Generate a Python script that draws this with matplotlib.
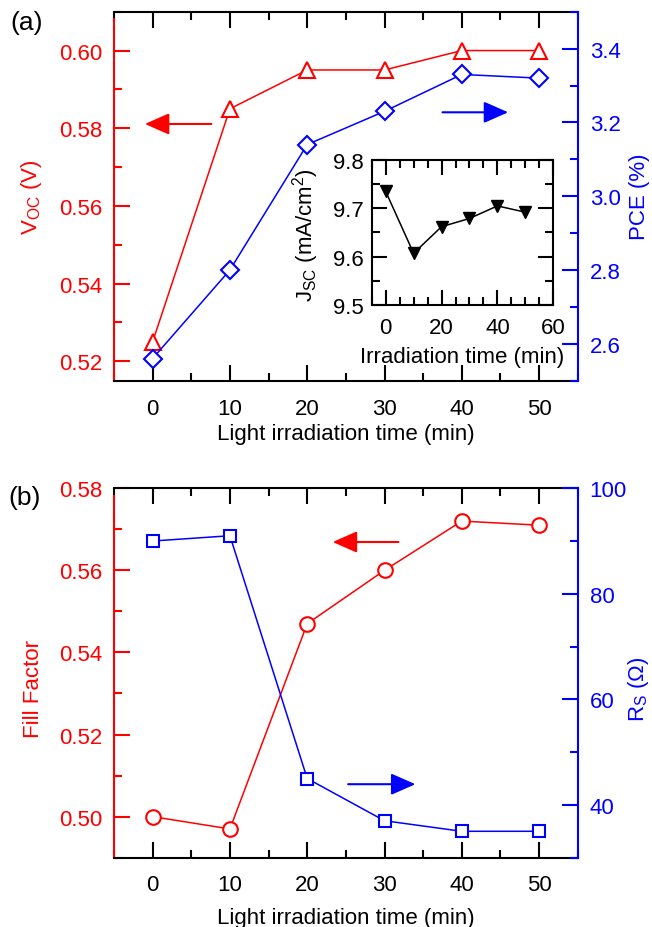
import matplotlib
matplotlib.use('Agg')
import matplotlib.pyplot as plt
from matplotlib.ticker import MultipleLocator

plt.rcParams['font.family'] = ['Liberation Sans', 'DejaVu Sans']
plt.rcParams['mathtext.fontset'] = 'custom'
plt.rcParams['mathtext.rm'] = 'Liberation Sans'
plt.rcParams['mathtext.it'] = 'Liberation Sans:italic'

RED = '#ff0000'
BLUE = '#0000ff'

# device parameters vs. light irradiation time
time_min = [0, 10, 20, 30, 40, 50]
voc = [0.525, 0.585, 0.595, 0.595, 0.600, 0.600]
pce = [2.56, 2.80, 3.14, 3.23, 3.33, 3.32]
jsc = [9.735, 9.607, 9.662, 9.679, 9.705, 9.692]
fill_factor = [0.500, 0.497, 0.547, 0.560, 0.572, 0.571]
rs = [90, 91, 45, 37, 35, 35]

FS = 16
FS_IN = 16
LW = 1.5


def style_x(ax, pad):
    ax.set_xlim(-5, 55)
    ax.xaxis.set_major_locator(MultipleLocator(10))
    ax.xaxis.set_minor_locator(MultipleLocator(5))
    ax.tick_params(axis='x', which='major', direction='in', length=11.3, width=LW,
                   top=True, bottom=True, labelsize=FS, pad=pad)
    ax.tick_params(axis='x', which='minor', direction='in', length=5.8, width=LW,
                   top=True, bottom=True)


def style_y(ax, side, color, lim, major, minor):
    ax.set_ylim(*lim)
    ax.yaxis.set_major_locator(MultipleLocator(major))
    ax.yaxis.set_minor_locator(MultipleLocator(minor))
    left = side == 'left'
    ax.tick_params(axis='y', which='major', direction='in', length=11.3, width=LW,
                   colors=color, labelsize=FS, pad=8.6, left=left, right=not left,
                   labelleft=left, labelright=not left)
    ax.tick_params(axis='y', which='minor', direction='in', length=5.8, width=LW,
                   colors=color, left=left, right=not left)


def setup_spines(ax, ax2):
    for s in ax.spines.values():
        s.set_linewidth(LW)
    ax.spines['left'].set_color(RED)
    ax.spines['right'].set_visible(False)
    for name in ['left', 'top', 'bottom']:
        ax2.spines[name].set_visible(False)
    ax2.spines['right'].set_color(BLUE)
    ax2.spines['right'].set_linewidth(LW)


def arrow(ax, tip, tail, color):
    ax.annotate('', xy=tip, xytext=tail,
                arrowprops=dict(arrowstyle='-|>,head_length=0.75,head_width=0.33',
                                color=color, lw=LW, mutation_scale=20,
                                shrinkA=0, shrinkB=0))


fig = plt.figure(figsize=(6.52, 9.28), dpi=100)

# ---- (a) Voc and PCE ----
ax_a = fig.add_axes([0.1748, 0.5887, 0.7113, 0.3976])
ax_a2 = ax_a.twinx()
style_x(ax_a, 12.5)
style_y(ax_a, 'left', RED, (0.515, 0.61), 0.02, 0.01)
style_y(ax_a2, 'right', BLUE, (2.5, 3.5), 0.2, 0.1)
ax_a.yaxis.set_major_formatter(lambda v, p: '%.2f' % v)
ax_a2.yaxis.set_major_formatter(lambda v, p: '%.1f' % v)
setup_spines(ax_a, ax_a2)
ax_a.spines['left'].set_bounds(0.515, 0.6081)

ax_a.plot(time_min, voc, color=RED, lw=1.1, marker='^', ms=12, mew=1.5,
          mfc='white', mec=RED, clip_on=False)
ax_a2.plot(time_min, pce, color=BLUE, lw=1.1, marker='D', ms=9, mew=1.5,
           mfc='white', mec=BLUE, clip_on=False)

ax_a.set_xlabel('Light irradiation time (min)', fontsize=FS)
ax_a.xaxis.set_label_coords(0.5, -0.1146)
ax_a.set_ylabel(r'V$_{\mathregular{OC}}$ (V)', fontsize=FS, color=RED)
ax_a.yaxis.set_label_coords(-0.151, 0.5)
ax_a2.set_ylabel('PCE (%)', fontsize=FS, color=BLUE)
ax_a2.yaxis.set_label_coords(1.1106, 0.5)

arrow(ax_a, (-1.0, 0.5811), (7.6, 0.5811), RED)
arrow(ax_a, (46.0, 0.5841), (37.5, 0.5841), BLUE)

# inset: Jsc
ax_in = fig.add_axes([0.5701, 0.6703, 0.2785, 0.1562])
ax_in.plot(time_min, jsc, color='black', lw=1.1, marker='v', ms=8.5)
ax_in.set_xlim(-5, 60)
ax_in.set_ylim(9.5, 9.8)
ax_in.xaxis.set_major_locator(MultipleLocator(20))
ax_in.xaxis.set_minor_locator(MultipleLocator(5))
ax_in.yaxis.set_major_locator(MultipleLocator(0.1))
ax_in.yaxis.set_minor_locator(MultipleLocator(0.05))
ax_in.tick_params(which='major', direction='in', length=10.5, width=LW,
                  top=True, right=True, labelsize=FS_IN)
ax_in.tick_params(which='minor', direction='in', length=6, width=LW,
                  top=True, right=True)
ax_in.tick_params(axis='x', pad=9)
ax_in.tick_params(axis='y', pad=6)
for s in ax_in.spines.values():
    s.set_linewidth(LW)
ax_in.set_xlabel('Irradiation time (min)', fontsize=FS_IN)
ax_in.xaxis.set_label_coords(0.5, -0.281)
ax_in.set_ylabel(r'J$_{\mathregular{SC}}$ (mA/cm$^{\mathregular{2}}$)', fontsize=FS_IN)
ax_in.yaxis.set_label_coords(-0.279, 0.49)

# ---- (b) FF and Rs ----
ax_b = fig.add_axes([0.1748, 0.0747, 0.7113, 0.3981])
ax_b2 = ax_b.twinx()
style_x(ax_b, 11.5)
style_y(ax_b, 'left', RED, (0.49, 0.58), 0.02, 0.01)
style_y(ax_b2, 'right', BLUE, (30, 100), 20, 10)
ax_b.yaxis.set_major_formatter(lambda v, p: '%.2f' % v)
setup_spines(ax_b, ax_b2)
ax_b.spines['left'].set_bounds(0.49, 0.5782)

ax_b.plot(time_min, fill_factor, color=RED, lw=1.1, marker='o', ms=10.5, mew=1.5,
          mfc='white', mec=RED, clip_on=False)
ax_b2.plot(time_min, rs, color=BLUE, lw=1.1, marker='s', ms=9, mew=1.5,
           mfc='white', mec=BLUE, clip_on=False)

ax_b.set_xlabel('Light irradiation time (min)', fontsize=FS)
ax_b.xaxis.set_label_coords(0.5, -0.1335)
ax_b.set_ylabel('Fill Factor', fontsize=FS, color=RED)
ax_b.yaxis.set_label_coords(-0.151, 0.4594)
ax_b2.set_ylabel(r'R$_{\mathregular{S}}$ ($\Omega$)', fontsize=FS, color=BLUE)
ax_b2.yaxis.set_label_coords(1.104, 0.4594)

arrow(ax_b, (23.3, 0.5669), (31.8, 0.5669), RED)
arrow(ax_b, (34.0, 0.5079), (25.3, 0.5079), BLUE)

fig.text(10 / 652, 1 - 23 / 928, '(a)', fontsize=19, va='center', ha='left')
fig.text(8 / 652, 1 - 498 / 928, '(b)', fontsize=19, va='center', ha='left')

fig.savefig('out.png', dpi=100)
